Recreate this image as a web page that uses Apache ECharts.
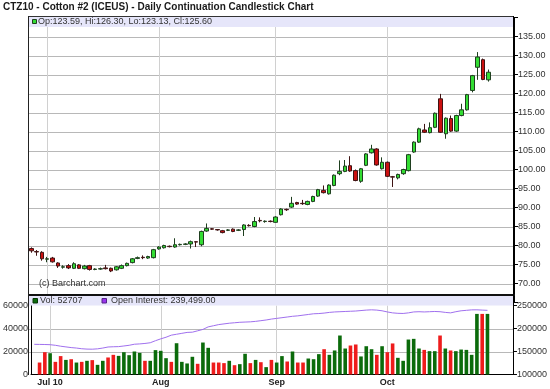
<!DOCTYPE html>
<html><head><meta charset="utf-8">
<script src="https://cdn.jsdelivr.net/npm/echarts@6/dist/echarts.min.js"></script>
<style>html,body{margin:0;padding:0;background:#fff}#c{width:550px;height:389px}</style>
</head><body><div id="c"></div>
<script>
const dates = ['06-28','06-29','06-30',
 '07-01','07-02','07-06','07-07','07-08','07-09','07-12','07-13','07-14','07-15','07-16','07-19','07-20','07-21','07-22','07-23','07-26','07-27','07-28','07-29','07-30',
 '08-02','08-03','08-04','08-05','08-06','08-09','08-10','08-11','08-12','08-13','08-16','08-17','08-18','08-19','08-20','08-23','08-24','08-25','08-26','08-27','08-30','08-31',
 '09-01','09-02','09-03','09-07','09-08','09-09','09-10','09-13','09-14','09-15','09-16','09-17','09-20','09-21','09-22','09-23','09-24','09-27','09-28','09-29','09-30',
 '10-01','10-04','10-05','10-06','10-07','10-08','10-11','10-12','10-13','10-14','10-15','10-18','10-19','10-20','10-21','10-22','10-25','10-26','10-27','10-28'];
const monthLabels = ['Jul 10','Aug','Sep','Oct'];

const open  = [79.2,78.4,78.2,76.4,76.7,75.4,74.3,74.7,74.0,74.9,73.9,74.7,73.7,73.8,74.1,74.0,73.6,74.0,74.7,75.5,76.6,76.9,76.7,76.8,79.1,79.4,79.8,79.6,80.2,80.3,80.4,81.0,80.2,83.8,84.4,84.2,83.9,84.0,84.3,84.0,84.2,85.3,85.0,86.6,86.3,86.4,86.1,88.1,89.5,90.1,91.3,91.1,90.8,91.6,93.0,94.5,93.6,95.8,98.9,99.5,101.0,99.7,96.9,101.1,104.4,105.4,100.2,101.9,98.1,97.8,98.9,99.7,104.6,107.2,110.4,109.7,111.1,118.6,109.4,113.4,110.1,114.2,115.7,120.8,126.9,128.9,123.59];
const high  = [79.5,78.8,78.5,77.0,77.0,75.6,74.8,75.1,75.6,75.1,74.9,74.9,74.0,74.2,74.9,74.2,74.6,75.0,75.5,76.7,77.1,77.4,77.3,79.1,79.8,80.2,80.0,81.9,80.5,80.6,81.3,81.1,83.9,85.8,84.6,84.3,84.1,84.3,84.5,84.3,85.6,85.6,87.5,87.4,86.6,86.6,87.7,89.8,89.7,92.8,91.5,92.0,91.8,93.1,94.9,95.8,96.1,98.7,102.4,102.5,103.5,100.0,100.4,104.3,106.5,105.6,103.2,102.1,98.3,98.9,100.2,104.1,107.4,111.0,112.0,112.4,115.0,119.9,113.7,114.2,114.4,117.3,119.9,124.9,130.9,129.2,126.30];
const low   = [78.1,77.3,76.0,75.6,75.5,74.1,73.9,73.8,73.8,73.8,73.7,73.4,73.5,73.6,73.7,73.0,73.4,73.8,74.5,75.3,76.4,76.4,76.5,76.6,78.9,79.2,79.5,79.4,80.0,80.1,79.2,79.6,79.8,83.6,84.1,83.9,83.2,83.8,83.5,83.8,82.5,85.0,84.8,86.1,86.0,86.1,86.0,87.9,89.1,89.9,90.7,90.7,90.6,91.4,92.8,93.7,93.4,95.6,98.5,99.3,99.4,96.9,96.5,100.9,104.2,101.0,100.0,98.0,95.4,97.4,98.6,99.5,104.4,107.0,109.6,109.5,110.9,109.6,108.1,109.9,109.9,114.0,115.5,120.3,123.6,123.5,123.13];
const close = [78.6,78.3,76.5,76.5,75.7,74.6,74.4,74.1,75.2,74.0,74.6,73.7,73.8,73.9,73.9,73.3,74.4,74.7,75.3,76.5,76.8,76.8,77.1,78.9,79.6,80.0,79.7,80.2,80.3,80.4,81.0,80.9,83.7,84.5,84.3,84.1,83.4,84.1,83.7,84.1,85.4,85.2,86.3,86.5,86.4,86.3,87.5,89.6,89.4,91.1,90.9,91.0,91.6,92.9,94.7,93.9,95.9,98.5,99.5,100.9,99.6,97.1,100.2,104.1,105.4,101.2,101.9,98.2,98.0,98.7,100.0,103.9,107.2,110.7,109.8,111.0,114.8,109.8,113.5,110.1,114.2,115.7,119.7,124.7,129.6,123.7,125.60];

const volume = [null,10400,19400,18500,11000,16000,12700,13300,10400,11000,11900,12500,8400,11900,14800,17100,16200,19400,16800,20000,18800,11900,11900,21200,20600,14200,11000,27200,11000,9600,15400,9300,27800,23200,10400,10400,9900,11900,8100,9000,18000,9900,12700,10700,6400,12700,
 10400,16000,11300,20000,10400,10400,13900,13300,17700,22000,17100,20900,33900,22600,25200,26100,15700,24600,22000,17100,24600,19400,27000,14500,11900,30400,31000,22600,21400,20300,20300,33900,22600,20900,20300,21700,21400,17100,52700,52700,52707];
const volumeDir = ['','d','d','u','d','d','u','d','u','d','u','d','u','u','d','d','u','u','u','u','u','d','u','u','u','u','d','u','u','u','u','d','u','u','d','d','d','u','d','u','u','d','u','d','u','d',
 'u','u','d','u','d','d','u','u','u','d','u','u','u','u','d','d','u','u','u','d','u','d','d','u','u','u','u','u','d','u','u','d','u','d','u','u','u','u','u','d','u'];
const openInterest = [165600,165400,165200,164800,163500,161500,160000,158500,157500,156000,155200,155000,155800,157500,159800,160300,160600,162000,163500,165800,166500,167500,169000,173500,177500,181000,185500,187500,189500,191500,192000,195000,198000,203500,206000,208500,210000,211500,212500,213500,214000,214500,215500,217000,218500,220500,
 222000,223500,225000,226500,227500,229000,230500,232000,232500,233500,235000,236000,236500,237000,237500,238000,239000,240000,240600,240000,238500,236000,234000,233000,232700,234000,236000,236500,236000,236500,237000,236500,235000,234000,236500,238500,239500,240500,240600,240000,239499];

const N = dates.length;
const FONT = '"Liberation Sans", Arial, sans-serif';
const candleData = dates.map((d, i) => [i, open[i], close[i], low[i], high[i]]);
const volData = [];
volume.forEach((v, i) => { if (v != null) volData.push({ value: [i, v], itemStyle: { color: volumeDir[i] === 'u' ? '#0b6b0b' : '#ee1c1c' } }); });
const oiData = openInterest.map((v, i) => [i, v]);
const monthStarts = [];
for (let i = 1; i < N; i++) if (dates[i].slice(0, 2) !== dates[i - 1].slice(0, 2)) monthStarts.push(i);

const gridLineColor = '#d0d0d0';
const hGridColor = '#b8b8b8';
const xMin = -0.62, xMax = 90.84;
const last = N - 1;
const priceMin = 65, priceMax = 140, priceStep = 5;
const volMax = 60000, volStep = 20000;
const priceGrid = [];
for (let v = priceMin + priceStep; v < priceMax; v += priceStep) priceGrid.push(v);
const volGrid = [];
for (let v = volStep; v < volMax; v += volStep) volGrid.push(v);

const baseGraphic = [
  { type: 'rect', id: 'band1', z: 10, shape: { x: 28, y: 16, width: 486, height: 11 }, style: { fill: '#e6e6fa' } },
  { type: 'rect', id: 'band2', z: 10, shape: { x: 28, y: 296, width: 486, height: 9.5 }, style: { fill: '#e6e6fa' } },
  { type: 'rect', id: 'sep', z: 11, shape: { x: 28, y: 294, width: 487, height: 2 }, style: { fill: '#111' } },
  { type: 'line', id: 'ftop', z: 11, shape: { x1: 28, y1: 16.5, x2: 514, y2: 16.5 }, style: { stroke: '#333', lineWidth: 1 } },
  { type: 'line', id: 'fleft', z: 11, shape: { x1: 28.5, y1: 16, x2: 28.5, y2: 375 }, style: { stroke: '#222', lineWidth: 1 } },
  { type: 'line', id: 'fright', z: 11, shape: { x1: 513.5, y1: 16, x2: 513.5, y2: 375 }, style: { stroke: '#000', lineWidth: 1 } },
  { type: 'text', id: 'title', z: 12, left: 3, top: 2, style: { text: 'CTZ10 - Cotton #2 (ICEUS) - Daily Continuation Candlestick Chart', font: 'bold 10px ' + FONT, fill: '#1a1a1a' } },
  { type: 'rect', id: 'lg1', z: 12, shape: { x: 32.5, y: 19.5, width: 4, height: 4 }, style: { fill: '#33dd33', stroke: '#1f3f1f', lineWidth: 1 } },
  { type: 'text', id: 'lt1', z: 12, left: 38, top: 17, style: { text: 'Op:' + open[last].toFixed(2) + ', Hi:' + high[last].toFixed(2) + ', Lo:' + low[last].toFixed(2) + ', Cl:' + close[last].toFixed(2), font: '9px ' + FONT, fill: '#333' } },
  { type: 'text', id: 'copy', z: 12, left: 39, top: 279, style: { text: '(c) Barchart.com', font: '9px ' + FONT, fill: '#333' } },
  { type: 'rect', id: 'lg2', z: 12, shape: { x: 33, y: 298.5, width: 4.5, height: 4.5 }, style: { fill: '#0b6b0b', stroke: '#063806', lineWidth: 1 } },
  { type: 'text', id: 'lt2', z: 12, left: 40, top: 296, style: { text: 'Vol: ' + volume[last], font: '9px ' + FONT, fill: '#333' } },
  { type: 'rect', id: 'lg3', z: 12, shape: { x: 102, y: 298.5, width: 4.5, height: 4.5 }, style: { fill: '#9933ee', stroke: '#552288', lineWidth: 1 } },
  { type: 'text', id: 'lt3', z: 12, left: 111, top: 296, style: { text: 'Open Interest: ' + openInterest[last].toLocaleString('en-US', { minimumFractionDigits: 2, maximumFractionDigits: 2 }), font: '9px ' + FONT, fill: '#333' } }
];

const chart = echarts.init(document.getElementById('c'), null, { renderer: 'canvas' });
chart.setOption({
  animation: false,
  backgroundColor: '#fff',
  grid: [
    { left: 28, top: 17.5, width: 486, height: 285 },
    { left: 28, top: 305.5, width: 486, height: 69 }
  ],
  xAxis: [
    { type: 'value', gridIndex: 0, min: xMin, max: xMax, axisLine: { show: false, onZero: false }, axisTick: { show: false }, axisLabel: { show: false }, splitLine: { show: false } },
    { type: 'value', gridIndex: 1, min: xMin, max: xMax, axisLine: { show: true, onZero: false, lineStyle: { color: '#000', width: 1 } }, axisTick: { show: false }, axisLabel: { show: false }, splitLine: { show: false } }
  ],
  yAxis: [
    { type: 'value', gridIndex: 0, position: 'right', min: priceMin, max: priceMax, interval: priceStep,
      axisLine: { show: true, onZero: false, lineStyle: { color: '#000' } },
      axisTick: { show: true, length: 4, lineStyle: { color: '#000' } },
      axisLabel: { margin: 4, color: '#333', fontSize: 9, fontFamily: FONT, formatter: v => (v <= priceMin || v >= priceMax) ? '' : v.toFixed(2) },
      splitLine: { show: false } },
    { type: 'value', gridIndex: 1, position: 'left', min: 0, max: volMax, interval: volStep,
      axisLine: { show: true, onZero: false, lineStyle: { color: '#000' } },
      axisTick: { show: false },
      axisLabel: { margin: 3, color: '#333', fontSize: 9, fontFamily: FONT, formatter: v => String(v) },
      splitLine: { show: false } },
    { type: 'value', gridIndex: 1, position: 'right', min: 100000, max: 250000, interval: 50000,
      axisLine: { show: true, onZero: false, lineStyle: { color: '#000' } },
      axisTick: { show: true, length: 4, lineStyle: { color: '#000' } },
      axisLabel: { margin: 4, color: '#333', fontSize: 9, fontFamily: FONT, formatter: v => String(v) },
      splitLine: { show: false } }
  ],
  series: [
    { type: 'candlestick', xAxisIndex: 0, yAxisIndex: 0, data: candleData, barWidth: 4,
      itemStyle: { color: '#33dd33', color0: '#cc1111', borderColor: '#1f3f1f', borderColor0: '#3f1414', borderWidth: 1 },
      markLine: { silent: true, symbol: 'none', animation: false, z: 1,
        lineStyle: { color: gridLineColor, type: 'solid', width: 1 },
        label: { show: false },
        data: monthStarts.map(i => ({ xAxis: i }))
      },
      z: 3 },
    { type: 'line', xAxisIndex: 0, yAxisIndex: 0, data: [], z: 6,
      markLine: { silent: true, symbol: 'none', animation: false, z: 6,
        data: [{ yAxis: close[last], lineStyle: { opacity: 0, width: 0 },
          label: { show: true, position: 'end', distance: 4, formatter: close[last].toFixed(2), backgroundColor: '#000', color: '#fff', fontSize: 9, fontFamily: FONT, padding: [2, 2, 1, 2] } }] } },
    { type: 'bar', xAxisIndex: 1, yAxisIndex: 1, data: volData, barWidth: 3.6,
      markLine: { silent: true, symbol: 'none', animation: false, z: 1,
        lineStyle: { color: gridLineColor, type: 'solid', width: 1 },
        data: monthStarts.map((i, k) => ({ xAxis: i, name: monthLabels[k],
            label: { show: true, position: 'start', formatter: '{b}', distance: 4, color: '#222', fontSize: 9, fontWeight: 'bold', fontFamily: FONT } })) } },
    { type: 'line', xAxisIndex: 1, yAxisIndex: 2, data: oiData, showSymbol: false, symbol: 'none',
      lineStyle: { color: '#a070ee', width: 1 }, z: 4 }
  ],
  graphic: baseGraphic
});

// Horizontal grid lines placed through the library's own scales (pixel positions from convertToPixel)
const hLines = [];
priceGrid.forEach(v => {
  const y = Math.round(chart.convertToPixel({ yAxisIndex: 0 }, v)) + 0.5;
  hLines.push({ type: 'line', z: 0, silent: true, shape: { x1: 29, y1: y, x2: 513, y2: y }, style: { stroke: hGridColor, lineWidth: 1 } });
});
volGrid.forEach(v => {
  const y = Math.round(chart.convertToPixel({ yAxisIndex: 1 }, v)) + 0.5;
  hLines.push({ type: 'line', z: 0, silent: true, shape: { x1: 29, y1: y, x2: 513, y2: y }, style: { stroke: hGridColor, lineWidth: 1 } });
});
chart.setOption({ graphic: baseGraphic.concat([{ type: 'group', id: 'hgrid', z: 0, children: hLines }]) });
</script></body></html>
